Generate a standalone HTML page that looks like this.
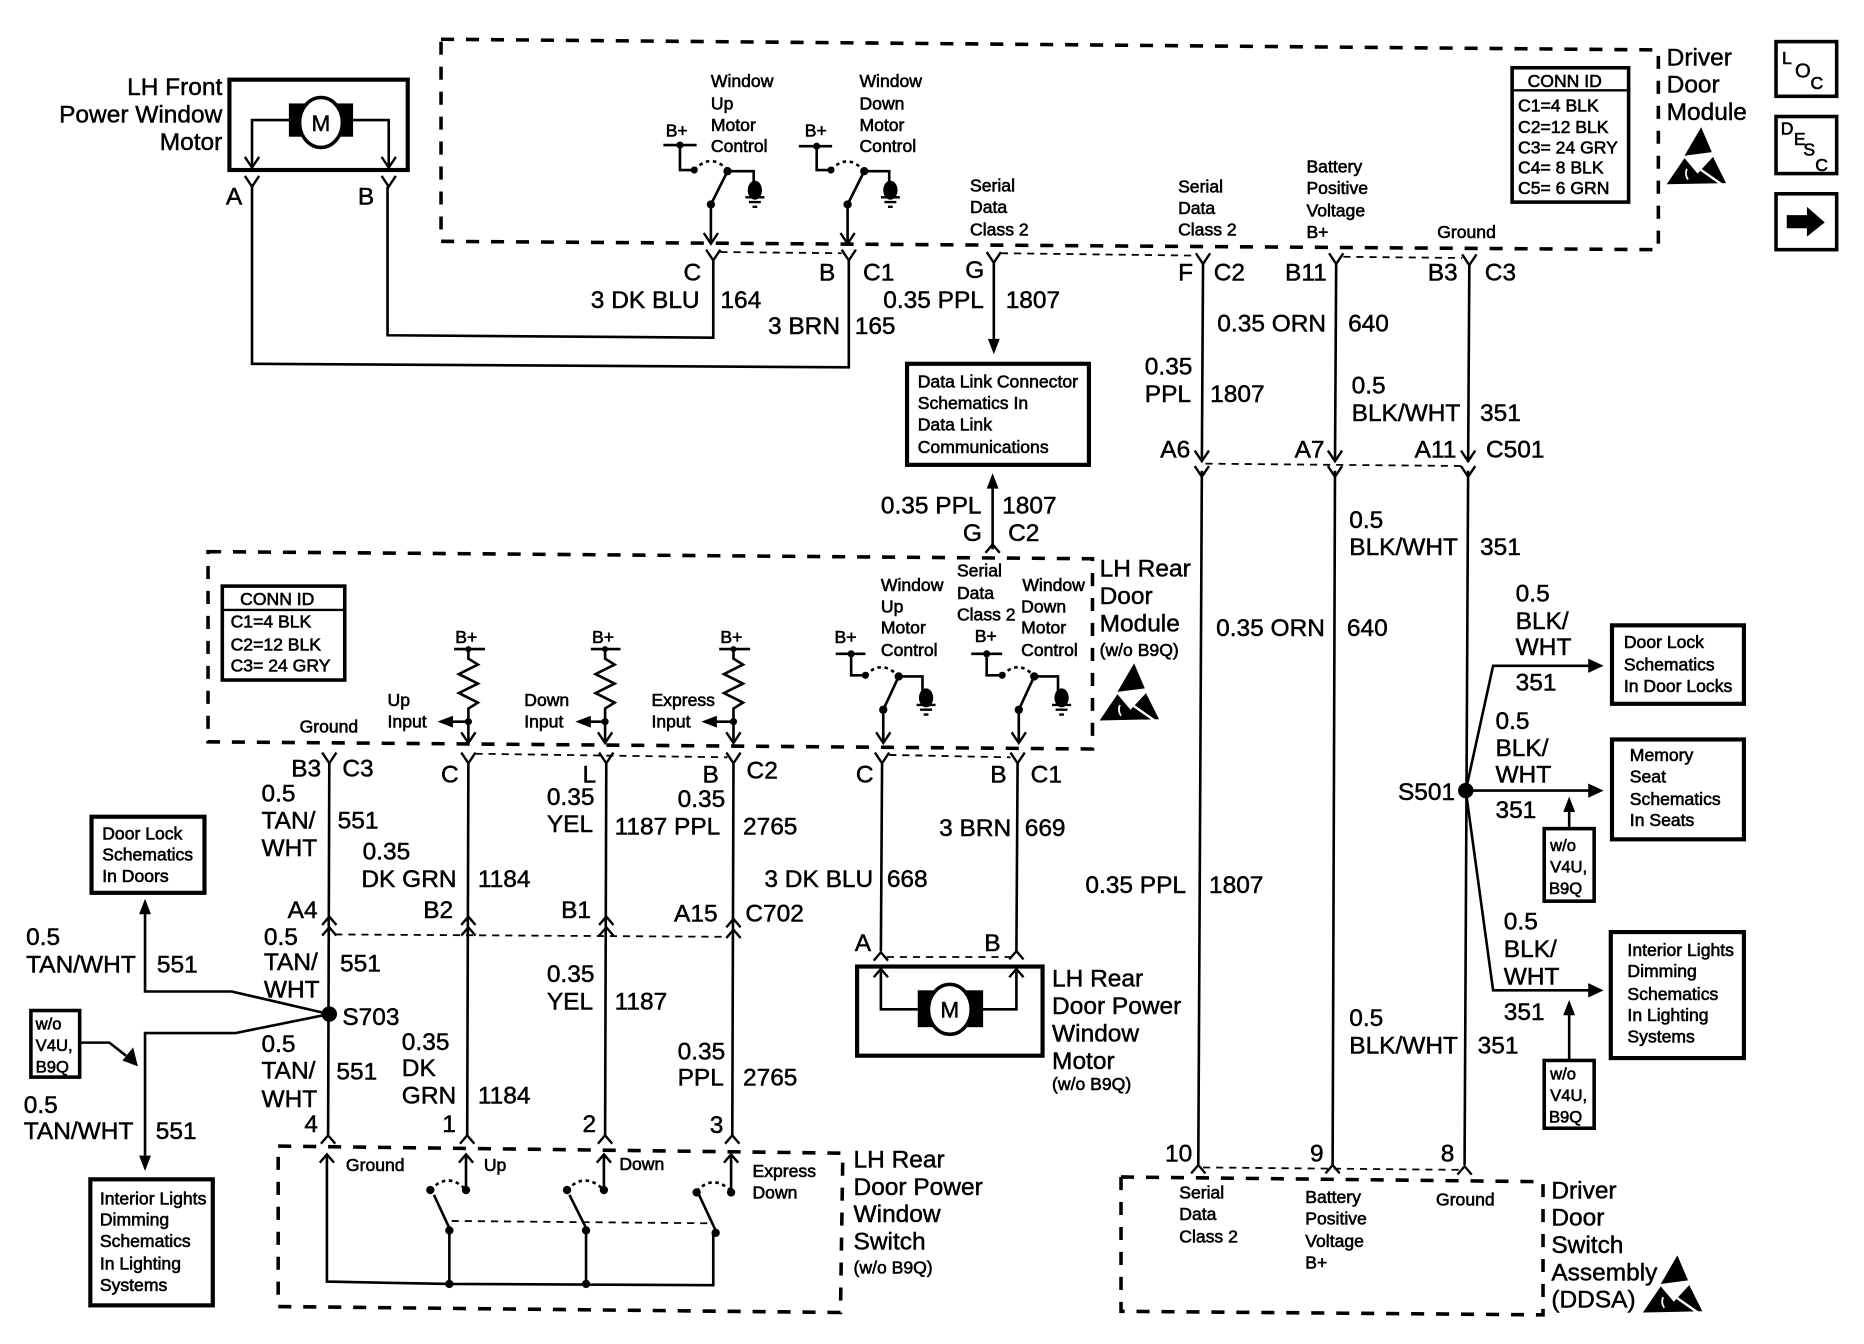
<!DOCTYPE html>
<html><head><meta charset="utf-8"><title>Wiring diagram</title>
<style>
html,body{margin:0;padding:0;background:#fff}
svg{display:block}
text{font-family:"Liberation Sans",sans-serif;fill:#000;stroke:#000;stroke-width:.4}
.l{font-size:20.6px}
.s{font-size:14.8px;stroke-width:.5}
.m{font-size:14.8px;stroke-width:.5}
.t{font-size:14px;stroke-width:.5}
.w{fill:none;stroke:#000;stroke-width:2.2}
.d{fill:none;stroke:#000;stroke-width:3;stroke-dasharray:11 10}
.f{fill:none;stroke:#000;stroke-width:1.5;stroke-dasharray:6 5}
.k{fill:#000;stroke:none}
</style></head><body>
<svg xmlns="http://www.w3.org/2000/svg" width="1864" height="1344" viewBox="0 0 1568 1130.5" preserveAspectRatio="none">
<defs>
<path id="y" d="M-6,-9 L0,0 L6,-9" fill="none" stroke="#000" stroke-width="2"/>
<path id="c" d="M-6,7 L0,0 L6,7" fill="none" stroke="#000" stroke-width="2"/>
<path id="fd" d="M-5,-13 L5,-13 L0,0Z" fill="#000"/>
<path id="fu" d="M-5,13 L5,13 L0,0Z" fill="#000"/>
<path id="fr" d="M-13,-6 L-13,6 L0,0Z" fill="#000"/>
<path id="fl" d="M13,-5 L13,5 L0,0Z" fill="#000"/>
<g id="gnd"><ellipse cx="0" cy="0" rx="6" ry="8" fill="#000"/><path d="M-8,6 H8 M-5,10 H5 M-2,14 H2" stroke="#000" stroke-width="2" fill="none"/></g>
<g id="esd"><path d="M2,-23 L11,-2 L-12,1Z" fill="#000"/><path d="M-27,25 L-12,3 L-1,16 L12,2 L23,24Z" fill="#000"/><path d="M-8,6 L22,27" stroke="#fff" stroke-width="2"/><path d="M-10,12 q-2,5 1,9" stroke="#fff" stroke-width="1.5" fill="none"/></g>
<path id="res" d="M0,0 V8 L8,13 L-8,21 L8,29 L-8,37 L8,45 L0,50 V61" fill="none" stroke="#000" stroke-width="2.2"/>
</defs>
<rect width="1568" height="1131" fill="#fff"/>

<!-- Dashed enclosures -->
<path class="d" d="M371,33 L1395,42 L1395,210 L371,203Z"/>
<path class="d" d="M175,464 L919,470 L919,630 L175,624Z"/>
<path class="d" d="M234,964 L709,970 L707,1104 L234,1099Z"/>
<path class="d" d="M943,990 L1298,994 L1298,1106 L943,1103Z"/>

<!-- LH Front motor -->
<rect x="193" y="67" width="150" height="76" fill="none" stroke="#000" stroke-width="3.5"/>
<path class="w" d="M244,101 H212 V141 M297,101 H327 V141"/>
<use href="#y" x="212" y="141"/><use href="#y" x="327" y="141"/>
<rect class="k" x="243" y="87" width="54" height="28"/>
<ellipse cx="270" cy="103" rx="18" ry="21" fill="#fff" stroke="#000" stroke-width="3"/>
<text class="l" x="262" y="110" style="font-size:19px">M</text>
<text class="l" x="187" y="80" text-anchor="end">LH Front</text>
<text class="l" x="187" y="103" text-anchor="end">Power Window</text>
<text class="l" x="187" y="126" text-anchor="end">Motor</text>
<use href="#y" x="212" y="157"/><use href="#y" x="327" y="157"/>
<text class="l" x="190" y="172">A</text><text class="l" x="301" y="172">B</text>
<path class="w" d="M212,157 V306 L714,309 V218 M326,157 V282 L600,284 V218"/>

<!-- Top switches -->
<text class="s" x="598" y="73">Window</text><text class="s" x="598" y="92">Up</text><text class="s" x="598" y="110">Motor</text><text class="s" x="598" y="128">Control</text>
<text class="s" x="723" y="73">Window</text><text class="s" x="723" y="92">Down</text><text class="s" x="723" y="110">Motor</text><text class="s" x="723" y="128">Control</text>
<text class="s" x="560" y="115">B+</text><text class="s" x="677" y="115">B+</text>
<path class="w" d="M558,122 H586 M572,122 V143 H584 M612,144 H634 V156 M612,144 L598,172 V205"/>
<path class="w" d="M672,123 H700 M687,123 V143 H699 M727,144 H748 V156 M727,144 L713,172 V205"/>
<path class="w" style="stroke-dasharray:3 3" d="M584,143 Q598,128 612,143 M699,143 Q713,128 727,144"/>
<circle class="k" cx="572" cy="122" r="3"/><circle class="k" cx="584" cy="143" r="3"/><circle class="k" cx="612" cy="144" r="3.5"/><circle class="k" cx="598" cy="172" r="3.5"/>
<circle class="k" cx="687" cy="123" r="3"/><circle class="k" cx="699" cy="143" r="3"/><circle class="k" cx="727" cy="144" r="3.5"/><circle class="k" cx="713" cy="172" r="3.5"/>
<use href="#gnd" x="635" y="160"/><use href="#gnd" x="749" y="160"/>
<use href="#y" x="598" y="205"/><use href="#y" x="713" y="205"/>
<use href="#y" x="600" y="219"/><use href="#y" x="714" y="219"/><use href="#y" x="836" y="221"/><use href="#y" x="1012" y="222"/><use href="#y" x="1124" y="222"/><use href="#y" x="1236" y="223"/>

<!-- Top labels -->
<text class="s" x="816" y="161">Serial</text><text class="s" x="816" y="179">Data</text><text class="s" x="816" y="198">Class 2</text>
<text class="s" x="991" y="162">Serial</text><text class="s" x="991" y="180">Data</text><text class="s" x="991" y="198">Class 2</text>
<text class="s" x="1099" y="145">Battery</text><text class="s" x="1099" y="163">Positive</text><text class="s" x="1099" y="182">Voltage</text><text class="s" x="1099" y="200">B+</text>
<text class="s" x="1209" y="200">Ground</text>

<rect x="1272" y="57" width="98" height="113" fill="none" stroke="#000" stroke-width="3"/>
<path d="M1272,76 H1370" stroke="#000" stroke-width="2"/>
<text class="m" x="1285" y="73">CONN ID</text>
<text class="m" x="1277" y="94">C1=4 BLK</text><text class="m" x="1277" y="112">C2=12 BLK</text><text class="m" x="1277" y="129">C3= 24 GRY</text><text class="m" x="1277" y="146">C4= 8 BLK</text><text class="m" x="1277" y="163">C5= 6 GRN</text>

<text class="l" x="1402" y="55">Driver</text><text class="l" x="1402" y="78">Door</text><text class="l" x="1402" y="101">Module</text>
<use href="#esd" x="1429" y="130"/>

<!-- Side icons -->
<rect x="1494" y="35" width="51" height="46" fill="none" stroke="#000" stroke-width="3"/>
<text class="s" x="1499" y="54">L</text><text class="l" x="1510" y="65" style="font-size:17px">O</text><text class="s" x="1523" y="75">C</text>
<rect x="1494" y="98" width="51" height="48" fill="none" stroke="#000" stroke-width="3"/>
<text class="s" x="1498" y="113">D</text><text class="s" x="1509" y="122">E</text><text class="s" x="1517" y="131">S</text><text class="s" x="1527" y="144">C</text>
<rect x="1494" y="163" width="51" height="47" fill="none" stroke="#000" stroke-width="3"/>
<path class="k" d="M1503,181 H1520 V174 L1535,187 L1520,199 V192 H1503Z"/>

<!-- Connector dashed links -->
<path class="f" d="M606,212 L708,213 M842,213 L1006,215 M1130,216 L1230,217 M1014,390 L1232,392 M282,786 L612,788 M400,634 L612,637 M748,635 L850,637 M746,805 L850,805 M1012,982 L1228,984"/>

<!-- Vertical wires right -->
<path class="w" d="M836,221 V286 M1012,222 L1011,388 M1124,222 L1123,388 M1236,223 L1235,388"/>
<use href="#fd" x="836" y="298"/>
<path class="w" d="M836,286 V290"/>
<use href="#y" x="1011" y="388"/><use href="#y" x="1123" y="388"/><use href="#y" x="1235" y="388"/>
<use href="#y" x="1011" y="401"/><use href="#y" x="1123" y="401"/><use href="#y" x="1235" y="401"/>
<path class="w" d="M1011,396 L1008,980 M1123,396 L1121,980 M1235,396 L1232,980"/>
<use href="#c" x="1008" y="980"/><use href="#c" x="1121" y="980"/><use href="#c" x="1232" y="981"/>

<!-- DLC box -->
<rect x="763" y="306" width="153" height="85" fill="none" stroke="#000" stroke-width="3.5"/>
<text class="s" x="772" y="326">Data Link Connector</text><text class="s" x="772" y="344">Schematics In</text><text class="s" x="772" y="362">Data Link</text><text class="s" x="772" y="381">Communications</text>
<use href="#fu" x="835" y="398"/>
<path class="w" d="M835,408 V462"/>
<use href="#c" x="835" y="458"/>

<!-- Large labels top -->
<text class="l" x="575" y="236">C</text><text class="l" x="689" y="236">B</text><text class="l" x="726" y="236">C1</text>
<text class="l" x="497" y="259">3 DK BLU</text><text class="l" x="606" y="259">164</text>
<text class="l" x="646" y="281">3 BRN</text><text class="l" x="719" y="281">165</text>
<text class="l" x="743" y="259">0.35 PPL</text><text class="l" x="846" y="259">1807</text>
<text class="l" x="812" y="234">G</text><text class="l" x="991" y="236">F</text><text class="l" x="1021" y="236">C2</text>
<text class="l" x="1081" y="236">B11</text><text class="l" x="1201" y="236">B3</text><text class="l" x="1249" y="236">C3</text>
<text class="l" x="1024" y="279">0.35 ORN</text><text class="l" x="1134" y="279">640</text>
<text class="l" x="963" y="315">0.35</text><text class="l" x="963" y="338">PPL</text><text class="l" x="1018" y="338">1807</text>
<text class="l" x="1137" y="331">0.5</text><text class="l" x="1137" y="354">BLK/WHT</text><text class="l" x="1245" y="354">351</text>
<text class="l" x="976" y="385">A6</text><text class="l" x="1089" y="385">A7</text><text class="l" x="1190" y="385">A11</text><text class="l" x="1250" y="385">C501</text>
<text class="l" x="741" y="432">0.35 PPL</text><text class="l" x="843" y="432">1807</text>
<text class="l" x="810" y="455">G</text><text class="l" x="848" y="455">C2</text>
<text class="l" x="1135" y="444">0.5</text><text class="l" x="1135" y="467">BLK/WHT</text><text class="l" x="1245" y="467">351</text>
<text class="l" x="1023" y="535">0.35 ORN</text><text class="l" x="1133" y="535">640</text>
<text class="l" x="913" y="751">0.35 PPL</text><text class="l" x="1017" y="751">1807</text>
<text class="l" x="1135" y="863">0.5</text><text class="l" x="1135" y="886">BLK/WHT</text><text class="l" x="1243" y="886">351</text>
<text class="l" x="980" y="977">10</text><text class="l" x="1102" y="977">9</text><text class="l" x="1212" y="977">8</text>

<!-- S501 -->
<circle class="k" cx="1233" cy="665" r="6.5"/>
<text class="l" x="1176" y="673">S501</text>
<path class="w" d="M1233,665 L1256,560 H1338 M1233,665 H1338 M1233,665 L1256,833 H1338"/>
<use href="#fr" x="1349" y="560"/><use href="#fr" x="1349" y="665"/><use href="#fr" x="1349" y="833"/>
<text class="l" x="1275" y="506">0.5</text><text class="l" x="1275" y="529">BLK/</text><text class="l" x="1275" y="551">WHT</text><text class="l" x="1275" y="581">351</text>
<text class="l" x="1258" y="613">0.5</text><text class="l" x="1258" y="636">BLK/</text><text class="l" x="1258" y="658">WHT</text><text class="l" x="1258" y="688">351</text>
<text class="l" x="1265" y="782">0.5</text><text class="l" x="1265" y="805">BLK/</text><text class="l" x="1265" y="828">WHT</text><text class="l" x="1265" y="858">351</text>
<rect x="1356" y="526" width="111" height="66" fill="none" stroke="#000" stroke-width="3.5"/>
<text class="s" x="1366" y="545">Door Lock</text><text class="s" x="1366" y="564">Schematics</text><text class="s" x="1366" y="582">In Door Locks</text>
<rect x="1356" y="622" width="111" height="84" fill="none" stroke="#000" stroke-width="3.5"/>
<text class="s" x="1371" y="640">Memory</text><text class="s" x="1371" y="658">Seat</text><text class="s" x="1371" y="677">Schematics</text><text class="s" x="1371" y="695">In Seats</text>
<rect x="1355" y="784" width="112" height="106" fill="none" stroke="#000" stroke-width="3.5"/>
<text class="s" x="1369" y="804">Interior Lights</text><text class="s" x="1369" y="822">Dimming</text><text class="s" x="1369" y="841">Schematics</text><text class="s" x="1369" y="859">In Lighting</text><text class="s" x="1369" y="877">Systems</text>
<rect x="1299" y="697" width="42" height="61" fill="none" stroke="#000" stroke-width="3"/>
<text class="t" x="1304" y="716">w/o</text><text class="t" x="1304" y="734">V4U,</text><text class="t" x="1303" y="752">B9Q</text>
<rect x="1299" y="892" width="42" height="57" fill="none" stroke="#000" stroke-width="3"/>
<text class="t" x="1304" y="908">w/o</text><text class="t" x="1304" y="926">V4U,</text><text class="t" x="1303" y="944">B9Q</text>
<path class="w" d="M1320,697 V682 M1320,892 V852"/>
<use href="#fu" x="1320" y="670"/><use href="#fu" x="1320" y="841"/>

<!-- Driver Door Switch -->
<text class="s" x="992" y="1008">Serial</text><text class="s" x="992" y="1026">Data</text><text class="s" x="992" y="1045">Class 2</text>
<text class="s" x="1098" y="1012">Battery</text><text class="s" x="1098" y="1030">Positive</text><text class="s" x="1098" y="1049">Voltage</text><text class="s" x="1098" y="1067">B+</text>
<text class="s" x="1208" y="1014">Ground</text>
<text class="l" x="1305" y="1008">Driver</text><text class="l" x="1305" y="1031">Door</text><text class="l" x="1305" y="1054">Switch</text><text class="l" x="1305" y="1077">Assembly</text><text class="l" x="1305" y="1100">(DDSA)</text>
<use href="#esd" x="1409" y="1079"/>

<!-- LH Rear Door Module -->
<text class="l" x="925" y="485">LH Rear</text><text class="l" x="925" y="508">Door</text><text class="l" x="925" y="531">Module</text><text class="s" x="925" y="552">(w/o B9Q)</text>
<use href="#esd" x="952" y="581"/>
<rect x="187" y="493" width="103" height="79" fill="none" stroke="#000" stroke-width="3"/>
<path d="M187,513 H290" stroke="#000" stroke-width="2"/>
<text class="m" x="202" y="509">CONN ID</text>
<text class="m" x="194" y="528">C1=4 BLK</text><text class="m" x="194" y="547">C2=12 BLK</text><text class="m" x="194" y="565">C3= 24 GRY</text>

<text class="s" x="383" y="541">B+</text><text class="s" x="498" y="541">B+</text><text class="s" x="606" y="541">B+</text><text class="s" x="702" y="541">B+</text>
<path class="w" d="M382,546 H408 M497,546 H522 M605,546 H631"/>
<circle class="k" cx="394" cy="546" r="2.5"/><circle class="k" cx="509" cy="546" r="2.5"/><circle class="k" cx="617" cy="546" r="2.5"/>
<use href="#res" x="394" y="546"/><use href="#res" x="509" y="546"/><use href="#res" x="617" y="546"/>
<path class="w" d="M394,607 V625 M509,607 V625 M617,607 V625 M394,607 H380 M509,607 H496 M617,607 H602"/>
<circle class="k" cx="394" cy="607" r="3"/><circle class="k" cx="509" cy="607" r="3"/><circle class="k" cx="617" cy="607" r="3"/>
<use href="#fl" x="368" y="607"/><use href="#fl" x="484" y="607"/><use href="#fl" x="590" y="607"/>
<use href="#y" x="394" y="625"/><use href="#y" x="509" y="625"/><use href="#y" x="617" y="625"/>
<text class="s" x="326" y="594">Up</text><text class="s" x="326" y="612">Input</text>
<text class="s" x="441" y="594">Down</text><text class="s" x="441" y="612">Input</text>
<text class="s" x="548" y="594">Express</text><text class="s" x="548" y="612">Input</text>
<text class="s" x="252" y="616">Ground</text>

<text class="s" x="741" y="497">Window</text><text class="s" x="741" y="515">Up</text><text class="s" x="741" y="533">Motor</text><text class="s" x="741" y="552">Control</text>
<text class="s" x="805" y="485">Serial</text><text class="s" x="805" y="504">Data</text><text class="s" x="805" y="522">Class 2</text><text class="s" x="820" y="540">B+</text>
<text class="s" x="860" y="497">Window</text><text class="s" x="859" y="515">Down</text><text class="s" x="859" y="533">Motor</text><text class="s" x="859" y="552">Control</text>
<path class="w" d="M703,550 H728 M716,550 V568 H728 M756,569 H776 V583 M756,569 L743,597 V625"/>
<path class="w" d="M817,550 H843 M830,550 V568 H843 M870,569 H890 V583 M870,569 L857,597 V625"/>
<path class="w" style="stroke-dasharray:3 3" d="M728,568 Q742,554 756,569 M843,568 Q857,554 870,569"/>
<circle class="k" cx="716" cy="550" r="3"/><circle class="k" cx="728" cy="568" r="3"/><circle class="k" cx="756" cy="569" r="3.5"/><circle class="k" cx="743" cy="597" r="3.5"/>
<circle class="k" cx="830" cy="550" r="3"/><circle class="k" cx="843" cy="568" r="3"/><circle class="k" cx="870" cy="569" r="3.5"/><circle class="k" cx="857" cy="597" r="3.5"/>
<use href="#gnd" x="779" y="587"/><use href="#gnd" x="893" y="587"/>
<use href="#y" x="743" y="625"/><use href="#y" x="857" y="625"/>

<!-- Rear connector wires -->
<use href="#y" x="277" y="642"/><use href="#y" x="394" y="642"/><use href="#y" x="510" y="642"/><use href="#y" x="617" y="642"/><use href="#y" x="742" y="642"/><use href="#y" x="856" y="642"/>
<path class="w" d="M277,642 L276,956 M394,642 L393,956 M510,642 L509,956 M617,642 L616,956 M742,642 L741,800 M856,642 L855,800"/>
<use href="#c" x="277" y="771"/><use href="#c" x="394" y="771"/><use href="#c" x="510" y="771"/><use href="#c" x="617" y="773"/>
<use href="#c" x="277" y="780"/><use href="#c" x="394" y="780"/><use href="#c" x="510" y="780"/><use href="#c" x="617" y="782"/>
<use href="#c" x="741" y="801"/><use href="#c" x="855" y="800"/>
<use href="#c" x="276" y="955"/><use href="#c" x="393" y="955"/><use href="#c" x="509" y="955"/><use href="#c" x="616" y="955"/>

<text class="l" x="245" y="653">B3</text><text class="l" x="288" y="653">C3</text><text class="l" x="371" y="658">C</text><text class="l" x="490" y="658">L</text><text class="l" x="591" y="658">B</text><text class="l" x="628" y="655">C2</text><text class="l" x="720" y="658">C</text><text class="l" x="833" y="658">B</text><text class="l" x="867" y="658">C1</text>
<text class="l" x="220" y="674">0.5</text><text class="l" x="220" y="697">TAN/</text><text class="l" x="220" y="720">WHT</text><text class="l" x="284" y="697">551</text>
<text class="l" x="305" y="723">0.35</text><text class="l" x="304" y="746">DK GRN</text><text class="l" x="402" y="746">1184</text>
<text class="l" x="460" y="677">0.35</text><text class="l" x="460" y="700">YEL</text><text class="l" x="517" y="702">1187</text><text class="l" x="567" y="702">PPL</text><text class="l" x="570" y="679">0.35</text><text class="l" x="625" y="702">2765</text>
<text class="l" x="643" y="746">3 DK BLU</text><text class="l" x="746" y="746">668</text><text class="l" x="790" y="703">3 BRN</text><text class="l" x="862" y="703">669</text>
<text class="l" x="242" y="772">A4</text><text class="l" x="356" y="772">B2</text><text class="l" x="472" y="772">B1</text><text class="l" x="567" y="775">A15</text><text class="l" x="627" y="775">C702</text>
<text class="l" x="222" y="795">0.5</text><text class="l" x="222" y="816">TAN/</text><text class="l" x="222" y="839">WHT</text><text class="l" x="286" y="817">551</text>
<text class="l" x="288" y="862">S703</text>
<text class="l" x="460" y="826">0.35</text><text class="l" x="460" y="849">YEL</text><text class="l" x="517" y="849">1187</text>
<text class="l" x="220" y="885">0.5</text><text class="l" x="220" y="907">TAN/</text><text class="l" x="220" y="931">WHT</text><text class="l" x="283" y="908">551</text>
<text class="l" x="338" y="883">0.35</text><text class="l" x="338" y="905">DK</text><text class="l" x="338" y="928">GRN</text><text class="l" x="402" y="928">1184</text>
<text class="l" x="570" y="891">0.35</text><text class="l" x="570" y="913">PPL</text><text class="l" x="625" y="913">2765</text>
<text class="l" x="256" y="952">4</text><text class="l" x="372" y="952">1</text><text class="l" x="490" y="952">2</text><text class="l" x="597" y="953">3</text>

<!-- S703 -->
<circle class="k" cx="277" cy="853" r="6.5"/>
<path class="w" d="M277,853 L195,834 H122 V768 M277,853 L198,869 H122 V972"/>
<use href="#fu" x="122" y="756"/><use href="#fd" x="122" y="985"/>
<rect x="77" y="687" width="95" height="64" fill="none" stroke="#000" stroke-width="3.5"/>
<text class="s" x="86" y="706">Door Lock</text><text class="s" x="86" y="724">Schematics</text><text class="s" x="86" y="742">In Doors</text>
<text class="l" x="22" y="795">0.5</text><text class="l" x="22" y="818">TAN/WHT</text><text class="l" x="132" y="818">551</text>
<rect x="26" y="850" width="41" height="56" fill="none" stroke="#000" stroke-width="3"/>
<text class="t" x="30" y="866">w/o</text><text class="t" x="30" y="884">V4U,</text><text class="t" x="30" y="902">B9Q</text>
<path class="w" d="M67,877 H92 L106,888"/>
<path class="k" d="M103,892 L112,881 L116,897Z"/>
<text class="l" x="20" y="936">0.5</text><text class="l" x="20" y="958">TAN/WHT</text><text class="l" x="131" y="958">551</text>
<rect x="76" y="992" width="103" height="106" fill="none" stroke="#000" stroke-width="3.5"/>
<text class="s" x="84" y="1013">Interior Lights</text><text class="s" x="84" y="1031">Dimming</text><text class="s" x="84" y="1049">Schematics</text><text class="s" x="84" y="1068">In Lighting</text><text class="s" x="84" y="1086">Systems</text>

<!-- LH Rear motor -->
<text class="l" x="719" y="800">A</text><text class="l" x="828" y="800">B</text>
<rect x="721" y="813" width="156" height="75" fill="none" stroke="#000" stroke-width="3.5"/>
<path class="w" d="M741,817 V849 H772 M855,817 V849 H826"/>
<use href="#c" x="741" y="815"/><use href="#c" x="855" y="815"/>
<rect class="k" x="772" y="833" width="55" height="31"/>
<ellipse cx="799" cy="849" rx="18" ry="21" fill="#fff" stroke="#000" stroke-width="3"/>
<text class="l" x="791" y="856" style="font-size:19px">M</text>
<text class="l" x="885" y="830">LH Rear</text><text class="l" x="885" y="853">Door Power</text><text class="l" x="885" y="876">Window</text><text class="l" x="885" y="899">Motor</text><text class="s" x="885" y="917">(w/o B9Q)</text>

<!-- LH Rear switch -->
<text class="s" x="291" y="985">Ground</text><text class="s" x="407" y="985">Up</text><text class="s" x="521" y="984">Down</text><text class="s" x="633" y="990">Express</text><text class="s" x="633" y="1008">Down</text>
<use href="#c" x="275" y="971"/><use href="#c" x="392" y="971"/><use href="#c" x="508" y="971"/><use href="#c" x="615" y="971"/>
<path class="w" d="M275,971 V1078 L378,1080 L600,1081 V1037 M392,971 V1001 M508,971 V1001 M615,971 V1003 M365,1005 L378,1033 V1080 M479,1005 L493,1033 V1080 M588,1005 L602,1035"/>
<path class="w" style="stroke-dasharray:3 3" d="M362,1001 Q377,985 392,1001 M477,1001 Q492,985 508,1001 M586,1002 Q600,987 615,1002"/>
<path class="f" d="M380,1027 L600,1029"/>
<circle class="k" cx="362" cy="1001" r="3.5"/><circle class="k" cx="392" cy="1001" r="3.5"/><circle class="k" cx="477" cy="1001" r="3.5"/><circle class="k" cx="508" cy="1001" r="3.5"/><circle class="k" cx="586" cy="1003" r="3.5"/><circle class="k" cx="615" cy="1003" r="3.5"/>
<circle class="k" cx="378" cy="1035" r="3.5"/><circle class="k" cx="493" cy="1035" r="3.5"/><circle class="k" cx="602" cy="1037" r="3.5"/><circle class="k" cx="378" cy="1080" r="3.5"/><circle class="k" cx="493" cy="1080" r="3.5"/>
<text class="l" x="718" y="982">LH Rear</text><text class="l" x="718" y="1005">Door Power</text><text class="l" x="718" y="1028">Window</text><text class="l" x="718" y="1051">Switch</text><text class="s" x="718" y="1071">(w/o B9Q)</text>
</svg>
</body></html>
